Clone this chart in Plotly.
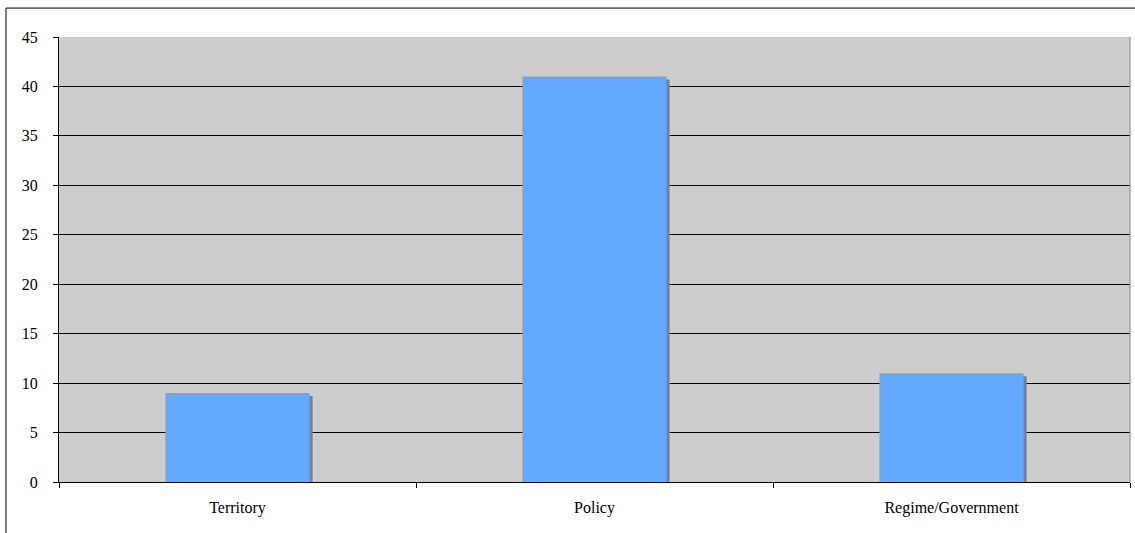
import plotly.graph_objects as go

categories = ["Territory", "Policy", "Regime/Government"]
values = [9, 41, 11]
y_ticks = [0, 5, 10, 15, 20, 25, 30, 35, 40, 45]

BAR_WIDTH = 0.404
# drop-shadow offsets in axis units (about 3 px each way)
SHADOW_DX = 0.0085
SHADOW_DY = 0.30

fig = go.Figure()

# grey drop shadow, shifted right and down behind each bar
fig.add_trace(go.Bar(
    x=categories,
    y=[v - SHADOW_DY for v in values],
    width=BAR_WIDTH,
    offset=-BAR_WIDTH / 2 + SHADOW_DX,
    marker=dict(color="#808080", line=dict(width=0)),
    hoverinfo="skip",
    showlegend=False,
))

fig.add_trace(go.Bar(
    x=categories,
    y=values,
    width=BAR_WIDTH,
    offset=-BAR_WIDTH / 2,
    marker=dict(color="#62A9FF", line=dict(width=0)),
    showlegend=False,
))

fig.update_layout(
    width=1135,
    height=533,
    margin=dict(l=59, r=5, t=37, b=51),
    paper_bgcolor="white",
    plot_bgcolor="#CDCDCD",
    barmode="overlay",
    font=dict(family="Liberation Serif, Times New Roman, serif", size=16, color="black"),
    xaxis=dict(
        type="category",
        tickson="boundaries",
        ticks="outside",
        ticklen=5,
        tickcolor="black",
        showgrid=False,
        showline=True,
        linecolor="black",
        linewidth=1,
        ticklabelstandoff=11,
    ),
    yaxis=dict(
        range=[0, 45],
        tickvals=y_ticks,
        ticks="outside",
        ticklen=5,
        tickcolor="black",
        showgrid=True,
        gridcolor="black",
        gridwidth=1,
        zeroline=False,
        showline=True,
        linecolor="black",
        linewidth=1,
        ticklabelstandoff=12,
    ),
    shapes=[
        # right edge of the plot area
        dict(type="line", xref="paper", yref="paper", x0=1, x1=1, y0=0, y1=1,
             line=dict(color="#808080", width=1)),
        # outer chart frame
        dict(type="rect", xref="paper", yref="paper",
             x0=-0.0495, x1=1.02, y0=-0.2, y1=1.065,
             line=dict(color="black", width=1), fillcolor="rgba(0,0,0,0)"),
    ],
)

fig.write_html("out.html")
